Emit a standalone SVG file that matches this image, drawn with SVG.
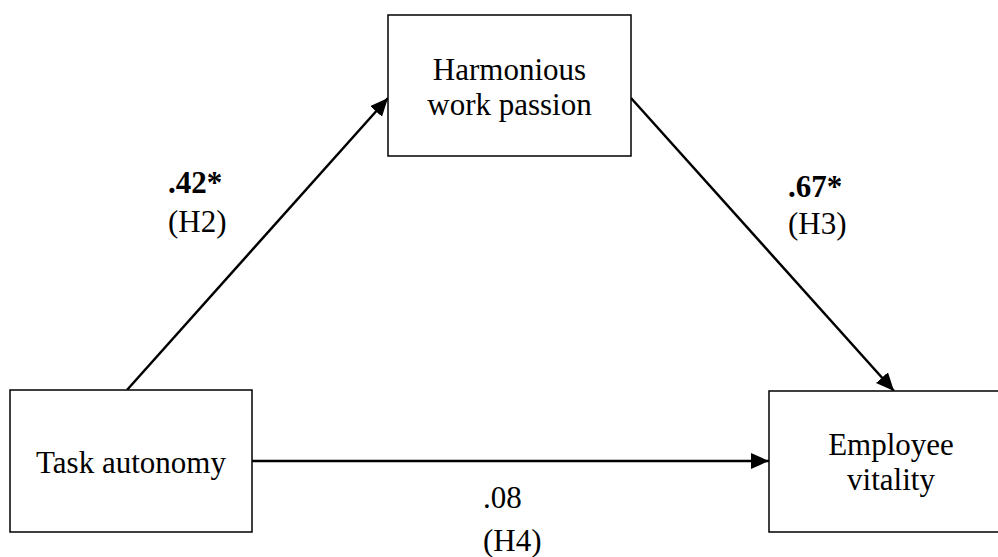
<svg xmlns="http://www.w3.org/2000/svg" width="998" height="557" viewBox="0 0 998 557">
<style>
.box{fill:#fff;stroke:#000;stroke-width:1.5}
.t{font-family:"Liberation Serif","Times New Roman",serif;font-size:31px;fill:#000}
.c{text-anchor:middle}
.b{font-weight:bold}
.edge{stroke:#000;stroke-width:2.5;fill:none;marker-end:url(#ah)}
</style>
<defs>
<marker id="ah" markerUnits="userSpaceOnUse" markerWidth="22" markerHeight="20" refX="18" refY="8" orient="auto">
<path d="M0,0 L18,8 L0,16 Z" fill="#000"/>
</marker>
</defs>
<rect width="998" height="557" fill="#fff"/>
<g id="connectors">
<line class="edge" x1="127" y1="390" x2="388" y2="98"/>
<line class="edge" x1="631" y1="98" x2="894" y2="391"/>
<line class="edge" x1="252" y1="461" x2="769" y2="461"/>
</g>
<g id="harmonious">
<rect class="box" x="388" y="15" width="243" height="141"/>
<text class="t c" x="509.5" y="80">Harmonious</text>
<text class="t c" x="509.5" y="115">work passion</text>
</g>
<g id="task">
<rect class="box" x="10" y="390" width="242" height="142"/>
<text class="t c" x="131" y="473">Task autonomy</text>
</g>
<g id="vitality">
<rect class="box" x="769" y="391" width="243" height="141"/>
<text class="t c" x="891" y="455">Employee</text>
<text class="t c" x="891" y="490">vitality</text>
</g>
<g id="labels">
<text class="t b" x="168" y="193">.42*</text>
<text class="t" x="168" y="232">(H2)</text>
<text class="t b" x="788" y="197">.67*</text>
<text class="t" x="788" y="234">(H3)</text>
<text class="t" x="483" y="508">.08</text>
<text class="t" x="483" y="551">(H4)</text>
</g>
</svg>
